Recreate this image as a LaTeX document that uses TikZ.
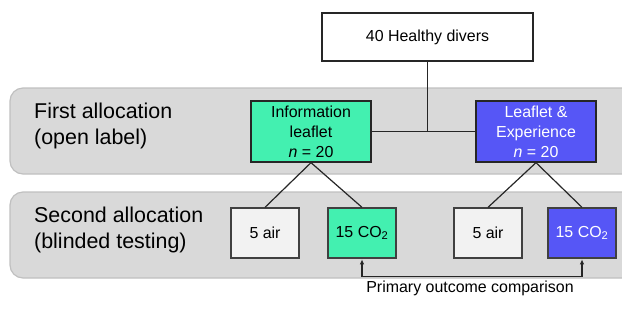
\documentclass[tikz,border=0pt]{standalone}
\usepackage{fontspec}
\setmainfont{Liberation Sans}
\usetikzlibrary{arrows.meta}

\definecolor{bandgray}{RGB}{217,217,217}
\definecolor{bandline}{RGB}{192,192,192}
\definecolor{infogreen}{RGB}{67,240,176}
\definecolor{expblue}{RGB}{86,86,246}
\definecolor{airwhite}{RGB}{242,242,242}

\tikzset{
    band/.style={fill=bandgray, draw=bandline, line width=1.2bp, rounded corners=13bp},
    bandlabel/.style={anchor=west, align=left, inner sep=0pt, font=\fontsize{21.5}{26}\selectfont},
    groupbox/.style={draw=black!85, line width=1.3bp, minimum width=120bp, minimum height=61bp,
        inner sep=0pt, align=center, font=\fontsize{16}{20}\selectfont},
    gasbox/.style={draw=black!75, line width=1.3bp, minimum width=68bp, minimum height=50bp,
        inner sep=0pt, font=\fontsize{16}{19}\selectfont},
    link/.style={black!85, line width=1.2bp},
}

\begin{document}
\begin{tikzpicture}[x=1bp, y=-1bp]
    \useasboundingbox (0,0) rectangle (622,320);
    \clip (0,0) rectangle (622,320);

    % background bands
    \draw[band] (10,88) rectangle (650,174);
    \draw[band] (10,192) rectangle (650,278);

    \node[bandlabel] (firstlbl) at (34,126) {First allocation\\(open label)};
    \node[bandlabel] (secondlbl) at (34,230) {Second allocation\\(blinded testing)};

    % groups
    \node[groupbox, minimum width=211bp, minimum height=48bp, fill=white] (divers) at (427.5,37) {40 Healthy divers};
    \node[groupbox, fill=infogreen] (info) at (311,131.5) {Information\\leaflet\\\textit{n} = 20};
    \node[groupbox, fill=expblue, text=white] (exp) at (536,131.5) {Leaflet \&\\Experience\\\textit{n} = 20};

    \node[gasbox, fill=airwhite] (airA) at (265,233) {5 air};
    \node[gasbox, fill=infogreen] (coA) at (362,233) {15 CO\textsubscript{2}};
    \node[gasbox, fill=airwhite] (airB) at (488,233) {5 air};
    \node[gasbox, fill=expblue, text=white] (coB) at (582,233) {15 CO\textsubscript{2}};

    % connectors
    \draw[link] (divers.south) -- (divers.south |- info.east);
    \draw[link] (info.east) -- (exp.west);

    \draw[link] (info.south) -- (airA.north);
    \draw[link] (info.south) -- (coA.north);
    \draw[link] (exp.south) -- (airB.north);
    \draw[link] (exp.south) -- (coB.north);

    \draw[link, {Latex[length=5bp,width=4.5bp]}-{Latex[length=5bp,width=4.5bp]}] ([yshift=-0.7bp]coA.south) -- ++(0,17) -| ([yshift=-0.7bp]coB.south);
    \node[font=\fontsize{16}{19}\selectfont] (outcome) at (470,288) {Primary outcome comparison};
\end{tikzpicture}
\end{document}
